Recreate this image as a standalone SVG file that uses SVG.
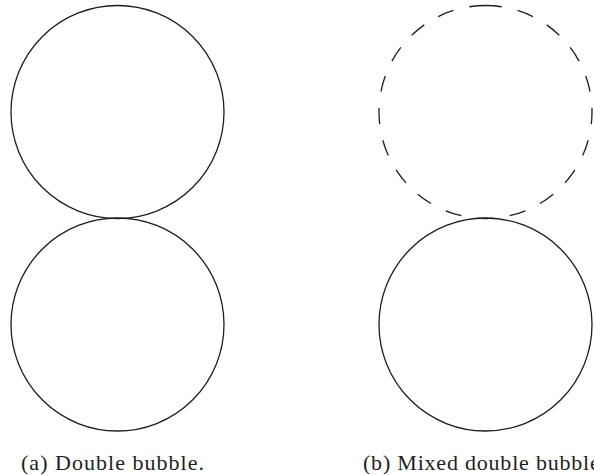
<svg xmlns="http://www.w3.org/2000/svg" width="594" height="475" viewBox="0 0 594 475">
<style>
.b{fill:none;stroke:#1e1e1e;stroke-width:1.3}
.d{stroke-dasharray:1 1}
.cap{font-family:"Liberation Serif","DejaVu Serif",serif;font-size:22px;fill:#1e1e1e}
</style>
<rect width="594" height="475" fill="#fff"/>
<g id="a-top"><circle class="b" cx="117.5" cy="112" r="106.5"/></g>
<g id="a-bottom"><circle class="b" cx="117.5" cy="324.5" r="106.5"/></g>
<g id="b-top"><path class="b d" pathLength="41" d="M485.5 5.5A106.5 106.5 0 0 1 485.5 218.5A106.5 106.5 0 0 1 485.5 5.5"/></g>
<g id="b-bottom"><circle class="b" cx="485.5" cy="324.5" r="106.5"/></g>
<g id="connectors"></g>
<text class="cap" x="21" y="470" textLength="183" lengthAdjust="spacing">(a) Double bubble.</text>
<text class="cap" x="363" y="470" textLength="243" lengthAdjust="spacing">(b) Mixed double bubble.</text>
</svg>
